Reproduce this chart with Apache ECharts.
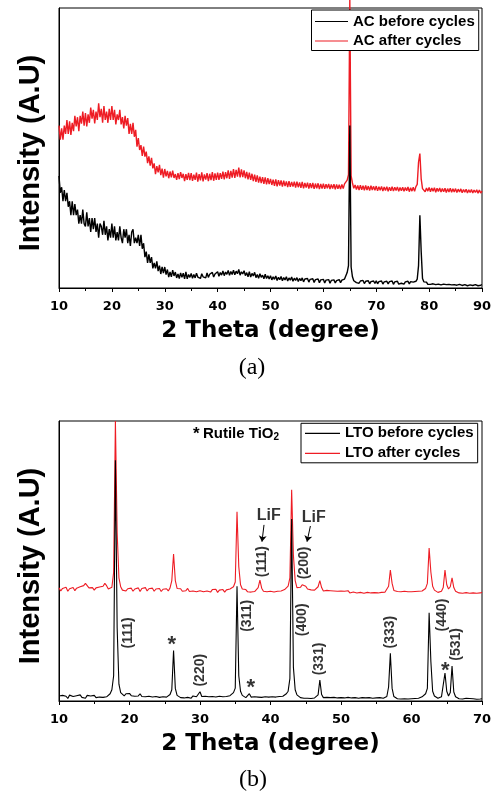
<!DOCTYPE html>
<html><head><meta charset="utf-8">
<script src="https://cdn.jsdelivr.net/npm/echarts@6/dist/echarts.min.js"></script>
<style>html,body{margin:0;padding:0;background:#fff}#c{width:495px;height:794px}</style>
</head><body><div id="c"></div>
<script>
// ---- data (2θ sampled every 0.25°) ----
const thetaStep = 0.25;
const acThetaStart = 10;
const ltoThetaStart = 10;
const acSeriesNames = ['AC before cycles', 'AC after cycles'];
const ltoSeriesNames = ['LTO before cycles', 'LTO after cycles'];

const acBefore = [
40,34,36,31,35,31,34,29,31,26,31,26,30,26,28,23,26,23,28,23,
22,27,22,25,20,25,21,25,20,23,18,23,22,19,24,19,22,17,21,18,
23,18,22,17,20,17,22,18,16,21,18,21,16,19,15,20,21,16,18,16,
19,15,19,14,16,11,13,9,12,9,11,7,9,7,9.5,6,8,5,7.5,5.3,
7.5,4.8,6.6,3.9,5.7,4,6.4,4.3,5.7,3.6,5,3.4,5.4,3.8,5.3,3.3,5.8,3.3,4.8,3.8,
5.2,3.5,4.8,3.6,5.3,3.9,4.6,3.4,5.1,4,4.7,3.6,5.4,3.8,4.9,4.2,5.6,3.9,5,4.3,
5.8,4.2,5.5,4.6,6.1,4.4,5.7,4.9,6.3,4.5,5.9,4.8,6.4,4.7,6,5.1,6.6,4.6,5.8,5,
6.2,4.4,5.5,4,5.8,3.9,5.2,4.3,5.6,3.7,4.8,3.5,5.1,3.8,4.6,3.3,4.9,3.4,4.4,3.2,
4.4,2.9,4,3.1,4.3,2.7,3.8,3,4.1,2.6,3.7,2.9,4,2.5,3.6,2.8,3.9,2.4,3.5,2.7,
3.7,2.3,3.4,2.6,3.6,2.2,3.2,2.5,3.4,2.1,3.1,2.4,3.3,2,3,2.3,3.2,1.9,2.9,2.2,
3.1,1.8,2.8,2.1,3,1.7,2.7,2,2.9,1.8,2.6,2.2,3,1.9,2.8,2.3,3.2,3.8,5.5,8,
58,7.5,4,2.6,2.9,1.9,2.6,1.7,2.5,1.9,2.7,1.6,2.4,1.8,2.6,1.5,2.3,1.7,2.5,1.6,
2.6,1.5,2.3,1.8,2.5,1.4,2.2,1.7,2.4,1.5,2.3,1.6,2.5,1.3,2.2,1.6,2.4,1.4,2.1,1.7,
2.3,1.4,2.2,1.6,2.4,1.5,2.3,1.7,2.1,1.6,2.4,3.2,8,26,13,3.4,2.2,1.5,2.1,1.3,
2,1.3,1.9,1.5,2.1,1.2,1.8,1.4,2,1.1,1.7,1.4,1.9,1.2,1.8,1.3,1.6,1.1,1.8,1.2,
1.7,1,1.6,1.3,1.8,0.9,1.5,1.2,1.7,0.8,1.4,1.1,1.6,0.9,1.5,1.2,1.4,0.8,1.5,1,
1.2];

const acAfter = [
58,53,57,53,58,55,60,55,59.5,54.7,59,56,61.5,57.7,61,56,61.5,58.7,63,58,
62.5,57.7,62,59,64.4,60.5,63.6,58.8,63,60,66,61,64,59,65,60,63,59,64,60,
65,60,63.6,58.4,62,60,63.6,58.4,61,57,61.5,58,60.7,55,58.6,55,59,54,56.5,50.5,
53.5,49.3,51,47.2,50.5,46.9,48.7,44.6,47,43.7,46.5,42.7,44.5,40.7,43.5,41.3,44,40.3,42.6,39.4,
42.5,39.9,41.8,39.2,41.6,39.5,41.9,39.3,40.7,38.6,41,38.9,41.4,39.3,40.8,38.2,40.7,38.6,41.1,38.5,
41,38.3,40.5,38.6,41.2,38,40.7,38.4,41.3,38.1,40.6,38.7,41,38.2,40.8,38.5,41.4,38.3,40.9,38.6,
41.2,38.6,41,39,41.6,38.8,41.4,39.2,42,39,41.8,39.4,42.5,39.3,42.2,39.8,43,39.5,42.4,39.6,
42,39.2,41.5,38.8,41.2,38.6,40.8,38.2,40.5,37.9,40.2,37.6,39.8,37.5,39.6,37.2,39.5,37,39.2,37.1,
39,36.8,38.7,36.5,38.8,36.3,38.5,36.6,38.4,36.2,38.3,36.4,38.1,36,38.2,36.1,37.9,36.2,38,35.9,
38,36,37.7,35.8,37.9,35.6,37.5,35.9,37.6,35.5,37.4,35.7,37.5,35.4,37.3,35.6,37.4,35.3,37.2,35.5,
37.3,35.4,37.1,35.6,37.2,35.3,37,35.5,37.1,35.2,37,35.4,36.9,35.3,37,35.5,37.2,37.5,38.5,40.5,
103,40,37.5,35.6,36.8,35.2,36.6,35,36.7,35.1,36.5,34.9,36.6,35,36.4,34.8,36.5,35,36.3,34.9,
36.4,34.7,36.2,34.9,36.3,34.6,36.1,34.8,36.2,34.5,36,34.7,36.2,34.6,36,34.8,36.1,34.5,35.9,34.7,
36,34.5,35.9,34.7,36.1,34.4,35.8,34.6,36,34.5,36.2,37,45,48,39,35.5,35.8,34.4,35.7,34.6,
35.9,34.4,35.7,34.6,35.8,34.2,35.6,34.5,35.7,34.3,35.5,34.4,35.6,34.1,35.5,34.3,35.6,34.2,35.4,34.3,
35.5,34.1,35.3,34.3,35.4,34,35.2,34.2,35.3,33.9,35.1,34.1,35.2,33.9,35,34.1,35.1,33.8,35,33.9,
34.6];

const ltoBefore = [
1.8,1.1,2,1.3,1.7,0.9,2.1,1.4,1.6,1,1.9,1.2,2.2,1.3,1.7,1,2,1.4,1.8,1.1,
2,1.2,1.8,1.4,2.1,1.3,1.9,1.5,2.2,2.6,4,9,86,26,6,3,2.4,1.8,2.6,1.9,
2.7,1.9,2.5,1.7,2.4,1.8,2.6,1.6,2.3,1.5,2.2,1.7,2.4,1.4,2.1,1.6,2.3,1.3,2,1.5,
2.1,1.4,1.9,2.3,4,18,4.5,2,1.6,1.2,1.8,1.1,1.7,1.3,1.6,1,1.8,1.2,1.5,1.1,
3.3,1.6,1.1,1.7,1,1.5,1.2,1.6,0.9,1.4,1.1,1.7,1,1.5,1.2,1.6,1.3,1.9,2.1,3,
4.6,41,9,3.5,2,1.5,1.2,1.6,2.6,1.4,1,1.5,1.1,1.4,0.9,1.3,1.1,1.5,1,1.4,
1.1,1.5,1,1.4,1.2,1.6,1.3,1.7,2,2.6,3.5,8,65,12,4,2.2,1.6,1.2,1.5,1,
1.4,1,1.3,0.9,1.4,1.1,1.5,2.2,7.5,2.3,1.2,0.8,1.3,0.9,1.2,0.8,1.3,0.9,1.1,0.8,
1.2,0.7,1.1,0.8,1.3,0.7,1.1,0.9,1.2,0.6,1,0.8,1.2,0.7,1.1,0.8,1.2,0.6,1,0.9,
1.1,0.7,1.2,0.8,1,1.1,1.6,5,17,4.5,1.6,1,0.8,1.1,0.7,1,0.8,1.1,0.7,1,
0.8,1.1,0.9,1.2,1,1.3,1.5,1.9,2.6,4.5,31.5,14,3.5,1.8,1.3,1,1.2,1.5,2.2,10,
3.5,1.8,3,12.5,3.2,1.5,1.1,0.8,1,0.7,0.9,1,0.7,0.9,0.6,0.8,0.9,0.6,0.8,0.7,
0.8];

const ltoAfter = [
40.4,39.3,40.2,39.5,40.6,39.2,40.1,39.6,40.5,39.4,40.3,39.7,40.8,40.2,41.2,42,41.3,40.4,39.8,40.5,
39.6,40.4,39.8,40.7,40.3,41,42,41.2,40,39.4,40.6,46,100,60,44,40.8,39.6,40.2,39.3,40.1,
39.4,40.3,39.2,40,39.5,40.4,39.1,40.2,39.6,40.5,39.3,40.1,39.4,40.3,39.2,40,39.5,40.2,39.1,39.9,
39.4,40.1,39.3,40.4,43,52.5,43,40.2,39.5,40.1,39.2,39.9,39.4,40.2,39.1,39.8,39.3,40,39,39.7,
39.4,39.9,39,39.7,39.3,40,38.9,39.8,39.2,39.9,38.8,39.6,39.2,39.8,38.9,39.7,39.3,40,39.6,40.8,
42.5,67.6,48,41.5,40,39.3,39.8,39,39.6,38.9,39.5,39.1,39.7,40.5,43.2,40.3,39.2,39.7,39,39.6,
39.2,39.7,38.9,39.6,39.2,39.8,39.3,40,39.8,40.3,41,44,75.4,52,43,40.5,39.8,40.6,41.5,42,
41,40,39.3,39.7,39.1,39.6,39.2,40.8,43,40.5,39.3,38.9,39.5,38.8,39.4,38.9,39.3,38.7,39.2,38.9,
39.3,38.7,39.2,38.8,39.4,38.6,39.1,38.9,39.3,38.6,39,38.8,39.2,38.5,39.1,38.8,39.2,38.6,39,38.7,
39.1,38.6,39,38.8,39.2,38.9,39.3,41,46.8,42,39.5,38.8,39.1,38.6,39,38.7,39.2,38.5,39,38.7,
39,38.6,39.1,38.8,39.2,38.9,39.3,39.6,40.2,42,54.6,46,41,39.6,39.1,38.8,39.3,39.2,40.5,46.8,
41.5,40,40.8,44,40.5,39.2,38.9,38.6,39,38.5,38.9,38.7,39,38.5,38.8,38.6,38.9,38.5,38.8,38.6,
38.8];

// peak annotations: [text, 2θ, intensity, rotation]
const ltoPeakLabels = [
  ['(111)', 19.75, 24.3, 90],
  ['*', 26.0, 20.1, 0],
  ['(220)', 29.97, 11, 90],
  ['(311)', 36.65, 30.4, 90],
  ['*', 37.2, 4.7, 0],
  ['(400)', 44.55, 29, 90],
  ['(331)', 46.95, 15, 90],
  ['(333)', 56.9, 24.6, 90],
  ['(440)', 64.3, 30.7, 90],
  ['*', 64.8, 10.8, 0],
  ['(531)', 66.4, 20.2, 90],
  ['LiF', 39.75, 66.1, 0],
  ['LiF', 46.13, 65.5, 0],
  ['(111)', 38.85, 49.75, 90],
  ['(200)', 44.75, 49.3, 90]
];
// LiF arrows: [2θ start, I start, 2θ end, I end]
const lifArrows = [
  [39.08, 62.9, 38.79, 56.9],
  [45.66, 62.5, 45.18, 56.9]
];

function toPairs(start, values) {
  return values.map((v, i) => [+(start + i * thetaStep).toFixed(2), v]);
}

const RED = '#ee1c24';
const SANS = '"Liberation Sans", Arial, sans-serif';
const WIDE = '"DejaVu Sans", sans-serif';

function xAxisCfg(gi, max) {
  return {
    type: 'value', gridIndex: gi, min: 10, max: max, interval: 10,
    name: '2 Theta (degree)', nameLocation: 'middle', nameGap: 32,
    nameTextStyle: { fontFamily: WIDE, fontWeight: 'bold', fontSize: 23, color: '#000' },
    axisLine: { show: true, onZero: false, lineStyle: { color: '#000', width: 1 } },
    axisTick: { show: true, inside: false, length: 4, lineStyle: { color: '#000' } },
    minorTick: { show: true, splitNumber: 2, length: 3, lineStyle: { color: '#000' } },
    splitLine: { show: false }, minorSplitLine: { show: false },
    axisLabel: { margin: 12, fontFamily: WIDE, fontWeight: 'bold', fontSize: 13, color: '#000' }
  };
}
function yAxisCfg(gi) {
  return {
    type: 'value', gridIndex: gi, min: 0, max: 100,
    name: 'Intensity (A.U)', nameLocation: 'middle', nameGap: 14, nameRotate: 90,
    nameTextStyle: { fontFamily: SANS, fontWeight: 'bold', fontSize: 29, color: '#000', padding: [0, 10, 0, 0] },
    axisLine: { show: true, onZero: false, lineStyle: { color: '#000', width: 1 } },
    axisTick: { show: false }, axisLabel: { show: false }, splitLine: { show: false }
  };
}
function lineSeries(name, gi, data, color, clip, width) {
  return {
    type: 'line', name: name, xAxisIndex: gi, yAxisIndex: gi, data: data,
    symbol: 'none', showSymbol: false, clip: clip, silent: true,
    lineStyle: { color: color, width: width }, itemStyle: { color: color },
    emphasis: { disabled: true }
  };
}
function legendCfg(names, left, top, pad, gap, iw, tg) {
  return {
    data: names, orient: 'vertical', left: left, top: top, padding: pad, itemGap: gap,
    itemWidth: iw, itemHeight: 1.2, itemTextGap: tg, icon: 'rect',
    borderColor: '#000', borderWidth: 1, backgroundColor: '#fff', selectedMode: false,
    textStyle: { fontFamily: SANS, fontWeight: 'bold', fontSize: 15, color: '#000' }
  };
}

const chart = echarts.init(document.getElementById('c'), null, { renderer: 'canvas' });
chart.setOption({
  animation: false,
  backgroundColor: '#fff',
  grid: [
    { left: 59, top: 8, width: 423, height: 280, show: true, borderColor: '#000', borderWidth: 1, backgroundColor: 'transparent' },
    { left: 59, top: 421, width: 423, height: 280, show: true, borderColor: '#000', borderWidth: 1, backgroundColor: 'transparent' }
  ],
  xAxis: [xAxisCfg(0, 90), xAxisCfg(1, 70)],
  yAxis: [yAxisCfg(0), yAxisCfg(1)],
  legend: [
    legendCfg(acSeriesNames, 311.5, 10, [4, 4, 2, 3.5], 4.5, 33, 7),
    legendCfg(ltoSeriesNames, 301, 423.3, [2.5, 4, 2, 4], 5, 35, 5)
  ],
  series: [
    lineSeries(acSeriesNames[1], 0, toPairs(acThetaStart, acAfter), RED, false, 1.4),
    lineSeries(acSeriesNames[0], 0, toPairs(acThetaStart, acBefore), '#000', false, 1.4),
    lineSeries(ltoSeriesNames[1], 1, toPairs(ltoThetaStart, ltoAfter), RED, true, 1.1),
    lineSeries(ltoSeriesNames[0], 1, toPairs(ltoThetaStart, ltoBefore), '#000', true, 1.1),
    {
      type: 'scatter', xAxisIndex: 1, yAxisIndex: 1, silent: true, symbolSize: 1,
      itemStyle: { color: 'rgba(0,0,0,0)' }, z: 10,
      data: ltoPeakLabels.map(p => ({
        name: p[0], value: [p[1], p[2]],
        label: {
          rotate: p[3],
          fontSize: p[0] === '*' ? 22 : (p[0] === 'LiF' ? 16 : 14)
        }
      })),
      label: {
        show: true, position: 'inside', formatter: '{b}', align: 'center', verticalAlign: 'middle',
        fontFamily: SANS, fontWeight: 'bold', color: '#000'
      },
      markLine: {
        silent: true, animation: false, symbol: ['none', 'arrow'], symbolSize: 6,
        lineStyle: { color: '#000', width: 1, type: 'solid' }, label: { show: false },
        emphasis: { disabled: true },
        data: lifArrows.map(a => [{ coord: [a[0], a[1]] }, { coord: [a[2], a[3]] }])
      }
    }
  ],
  graphic: [
    { type: 'text', x: 252, y: 368, style: { text: '(a)', fontFamily: '"Liberation Serif", serif', fontSize: 24, fill: '#000', align: 'center', verticalAlign: 'middle' } },
    { type: 'text', x: 253, y: 780, style: { text: '(b)', fontFamily: '"Liberation Serif", serif', fontSize: 24, fill: '#000', align: 'center', verticalAlign: 'middle' } },
    { type: 'text', x: 193, y: 434, z: 100, style: {
        text: '{s|*} {t|Rutile TiO}{sub|2}', align: 'left', verticalAlign: 'middle',
        rich: {
          s: { fontFamily: SANS, fontWeight: 'bold', fontSize: 17, fill: '#000', color: '#000' },
          t: { fontFamily: SANS, fontWeight: 'bold', fontSize: 15, fill: '#000', color: '#000' },
          sub: { fontFamily: SANS, fontWeight: 'bold', fontSize: 10, fill: '#000', color: '#000', verticalAlign: 'bottom', lineHeight: 10 }
        }
      } }
  ]
});
</script></body></html>
